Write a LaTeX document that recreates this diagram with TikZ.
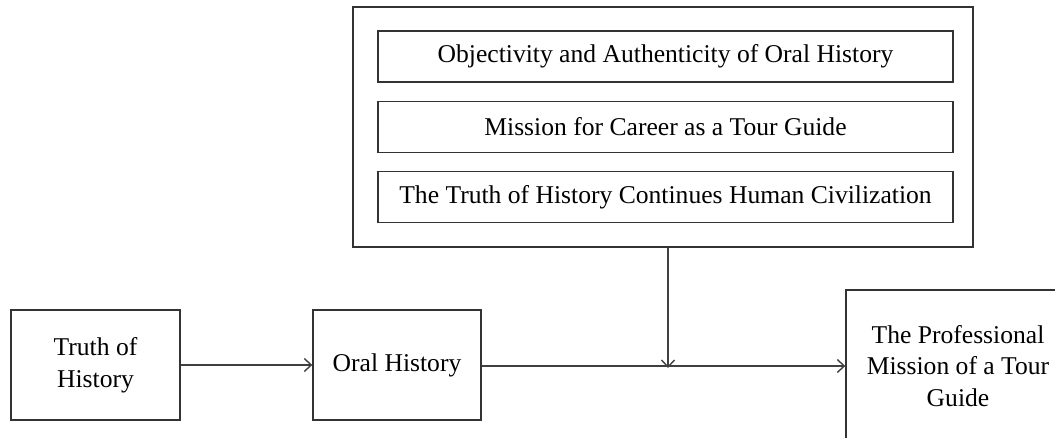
\documentclass[tikz,border=0pt]{standalone}
\usepackage{fontspec}
\setmainfont{Liberation Serif}
\usetikzlibrary{arrows.meta}
\begin{document}
\begin{tikzpicture}[x=1pt,y=-1pt,
  box/.style={draw=black!80,line width=1.4pt,rectangle,inner sep=0pt,align=center,
    font=\fontsize{25.6}{31.5}\selectfont},
  conn/.style={draw=black!75,line width=1.4pt},
  arr/.style={conn,-{Straight Barb[length=7pt,width=13pt,line width=1.4pt]}}]
\useasboundingbox (0,0) rectangle (1055,437);
\clip (0,0) rectangle (1055,437);
\node[box,minimum width=620pt,minimum height=240pt] (outer) at (663,127) {};
\node[box,minimum width=575pt,minimum height=51pt] (f1) at (665.5,56.5) {Objectivity and Authenticity of Oral History};
\node[box,minimum width=575pt,minimum height=51pt] (f2) at (665.5,127) {Mission for Career as a Tour Guide};
\node[box,minimum width=575pt,minimum height=51pt] (f3) at (665.5,197) {The Truth of History Continues Human Civilization};
\node[box,minimum width=169pt,minimum height=110pt] (truth) at (95.5,365) {Truth of\\History};
\node[box,minimum width=168pt,minimum height=110pt] (oral) at (397,365) {Oral History};
\node[box,minimum width=224pt,minimum height=152pt] (mission) at (958,366) {The Professional\\Mission of a Tour\\Guide};
\coordinate (join) at (668,366);
\draw[arr] (truth.east) -- (oral.west);
\draw[arr] (oral.east |- join) -- (mission.west |- join);
\draw[arr] ([xshift=5pt]outer.south) -- ([yshift=-2pt]join);
\end{tikzpicture}
\end{document}
